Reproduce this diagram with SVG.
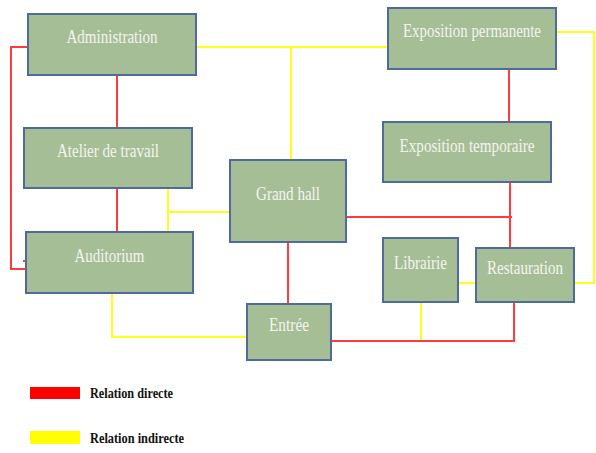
<svg xmlns="http://www.w3.org/2000/svg" width="596" height="453" viewBox="0 0 596 453">
<style>
.box{fill:#A6BE96;stroke:#4E6B9C;stroke-width:2}
.lbl{font-family:"Liberation Serif","Times New Roman",serif;font-size:19px;fill:#F4F4F0;text-anchor:middle}
.r{fill:none;stroke:#FF3B3B;stroke-width:2}
.y{fill:none;stroke:#FFFF1A;stroke-width:2}
.leg{font-family:"Liberation Serif","Times New Roman",serif;font-size:15px;font-weight:bold;fill:#111}
</style>
<rect width="596" height="453" fill="#fff"/>
<g id="connectors">
<path class="y" d="M196,47 H388"/>
<path class="y" d="M291,47 V160"/>
<path class="y" d="M556,32 H594 V283 H574"/>
<path class="y" d="M458,283 H476"/>
<path class="y" d="M168,188 V232 M168,212 H230"/>
<path class="y" d="M112,293 V337 H248"/>
<path class="y" d="M421,302 V341"/>
<path class="r" d="M117,75 V128"/>
<path class="r" d="M117,188 V232"/>
<path class="r" d="M28,47 H11 V269 H26 L31,261 H23"/>
<path class="r" d="M509,69 V122"/>
<path class="r" d="M510,182 V248 M347,217 H512"/>
<path class="r" d="M288,242 V305 H298"/>
<path class="r" d="M331,341 H514 V303"/>
</g>
<g id="administration"><rect class="box" x="28" y="14" width="168" height="61"/><text class="lbl" x="112" y="43" textLength="91" lengthAdjust="spacingAndGlyphs">Administration</text></g>
<g id="atelier"><rect class="box" x="24" y="128" width="168" height="60"/><text class="lbl" x="108" y="157" textLength="102" lengthAdjust="spacingAndGlyphs">Atelier de travail</text></g>
<g id="auditorium"><rect class="box" x="26" y="232" width="167" height="61"/><text class="lbl" x="109.5" y="262" textLength="70" lengthAdjust="spacingAndGlyphs">Auditorium</text></g>
<g id="grand-hall"><rect class="box" x="230" y="160" width="116" height="82"/><text class="lbl" x="288" y="200" textLength="64" lengthAdjust="spacingAndGlyphs">Grand hall</text></g>
<g id="expo-permanente"><rect class="box" x="388" y="8" width="168" height="61"/><text class="lbl" x="472" y="37" textLength="138" lengthAdjust="spacingAndGlyphs">Exposition permanente</text></g>
<g id="expo-temporaire"><rect class="box" x="383" y="122" width="168" height="60"/><text class="lbl" x="467" y="152" textLength="135" lengthAdjust="spacingAndGlyphs">Exposition temporaire</text></g>
<g id="librairie"><rect class="box" x="383" y="238" width="75" height="64"/><text class="lbl" x="420.5" y="269" textLength="53" lengthAdjust="spacingAndGlyphs">Librairie</text></g>
<g id="restauration"><rect class="box" x="476" y="248" width="98" height="54"/><text class="lbl" x="525" y="274" textLength="76" lengthAdjust="spacingAndGlyphs">Restauration</text></g>
<g id="entree"><rect class="box" x="247" y="304" width="84" height="56"/><text class="lbl" x="289" y="331" textLength="40" lengthAdjust="spacingAndGlyphs">Entrée</text></g>
<g id="legend">
<rect x="30" y="387" width="50" height="12" fill="#FF0000"/>
<text class="leg" x="90" y="398" textLength="83" lengthAdjust="spacingAndGlyphs">Relation directe</text>
<rect x="30" y="431" width="50" height="13" fill="#FFFF00"/>
<text class="leg" x="90" y="443" textLength="94" lengthAdjust="spacingAndGlyphs">Relation indirecte</text>
</g>
</svg>
